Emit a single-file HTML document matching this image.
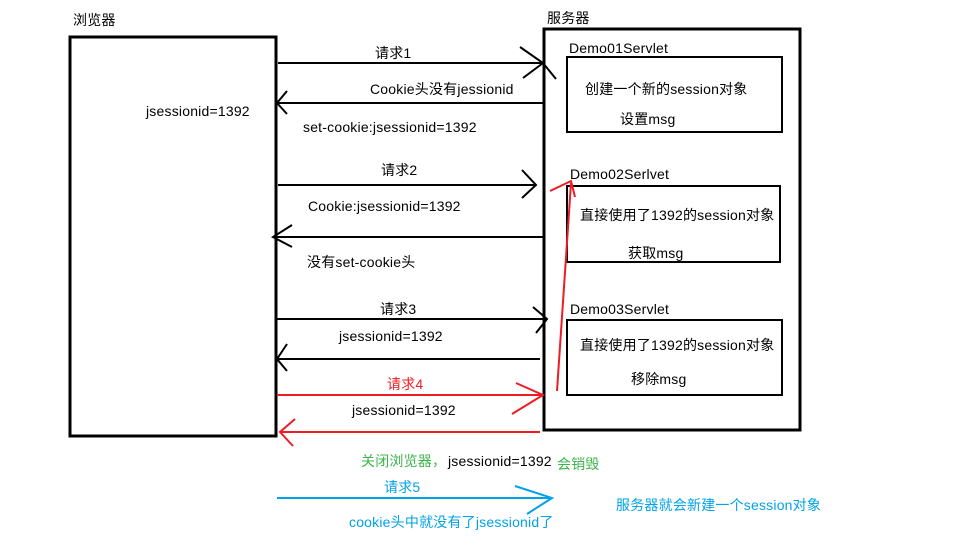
<!DOCTYPE html>
<html><head><meta charset="utf-8"><style>
body{margin:0;background:#fff}
svg text{font-family:"Liberation Sans","Noto Sans CJK SC",sans-serif;font-size:14px;letter-spacing:0.2px}
</style></head><body>
<svg width="955" height="548" viewBox="0 0 955 548" xmlns="http://www.w3.org/2000/svg">
<rect x="0" y="0" width="955" height="548" fill="#fff"/>
<g fill="none" stroke="#000">
<rect x="70" y="37" width="206" height="399" stroke-width="3"/>
<rect x="544" y="29" width="256" height="401" stroke-width="3"/>
<rect x="567" y="57" width="215" height="75" stroke-width="2"/>
<rect x="567" y="186" width="213" height="76" stroke-width="2"/>
<rect x="567" y="320" width="215" height="75" stroke-width="2"/>
<g stroke-width="2">
<line x1="278" y1="63" x2="543" y2="63"/><polyline points="520,47 543,63 523,78"/><line x1="543" y1="63" x2="556" y2="79"/>
<line x1="543" y1="103" x2="278" y2="103"/><polyline points="287,91 277,103 287,114"/>
<line x1="278" y1="185" x2="536" y2="185"/><polyline points="522,170 536,185 522,198"/>
<line x1="543" y1="237" x2="273" y2="237"/><polyline points="292,225 273,237 292,247"/>
<line x1="277" y1="319" x2="547" y2="319"/><polyline points="533,307 547,319 536,333"/>
<line x1="540" y1="359" x2="277" y2="359"/><polyline points="287,344 277,359 287,371"/>
</g>
<g stroke="#ee1c24" stroke-width="2">
<line x1="277" y1="395" x2="543" y2="395"/><polyline points="516,383 543,395 512,414"/>
<line x1="540" y1="432" x2="280" y2="432"/><polyline points="295,419 280,432 293,446"/>
<line x1="557" y1="391" x2="571" y2="183"/><polyline points="550,191 571,181 575,197"/>
</g>
<g stroke="#00a2e8" stroke-width="2">
<line x1="277" y1="498" x2="552" y2="498"/><polyline points="515,486 552,498 527,514"/>
</g>
</g>
<text x="73" y="25">浏览器</text>
<text x="547" y="23">服务器</text>
<text x="146" y="116">jsessionid=1392</text>
<text x="375" y="58">请求1</text>
<text x="370" y="94">Cookie头没有jessionid</text>
<text x="303" y="132">set-cookie:jsessionid=1392</text>
<text x="381" y="175">请求2</text>
<text x="308" y="211">Cookie:jsessionid=1392</text>
<text x="307" y="267">没有set-cookie头</text>
<text x="380" y="314">请求3</text>
<text x="339" y="341">jsessionid=1392</text>
<text x="387" y="389" fill="#ee1c24">请求4</text>
<text x="352" y="415">jsessionid=1392</text>
<text x="361" y="466" fill="#3cb44b">关闭浏览器，</text>
<text x="448" y="466">jsessionid=1392</text>
<text x="557" y="469" fill="#3cb44b">会销毁</text>
<text x="384" y="492" fill="#00a2e8">请求5</text>
<text x="349" y="527" fill="#00a2e8">cookie头中就没有了jsessionid了</text>
<text x="616" y="510" fill="#00a2e8">服务器就会新建一个session对象</text>
<text x="569" y="53">Demo01Servlet</text>
<text x="585" y="94">创建一个新的session对象</text>
<text x="620" y="124">设置msg</text>
<text x="570" y="179">Demo02Serlvet</text>
<text x="580" y="220">直接使用了1392的session对象</text>
<text x="628" y="258">获取msg</text>
<text x="570" y="314">Demo03Servlet</text>
<text x="580" y="350">直接使用了1392的session对象</text>
<text x="631" y="384">移除msg</text>
</svg>
</body></html>
